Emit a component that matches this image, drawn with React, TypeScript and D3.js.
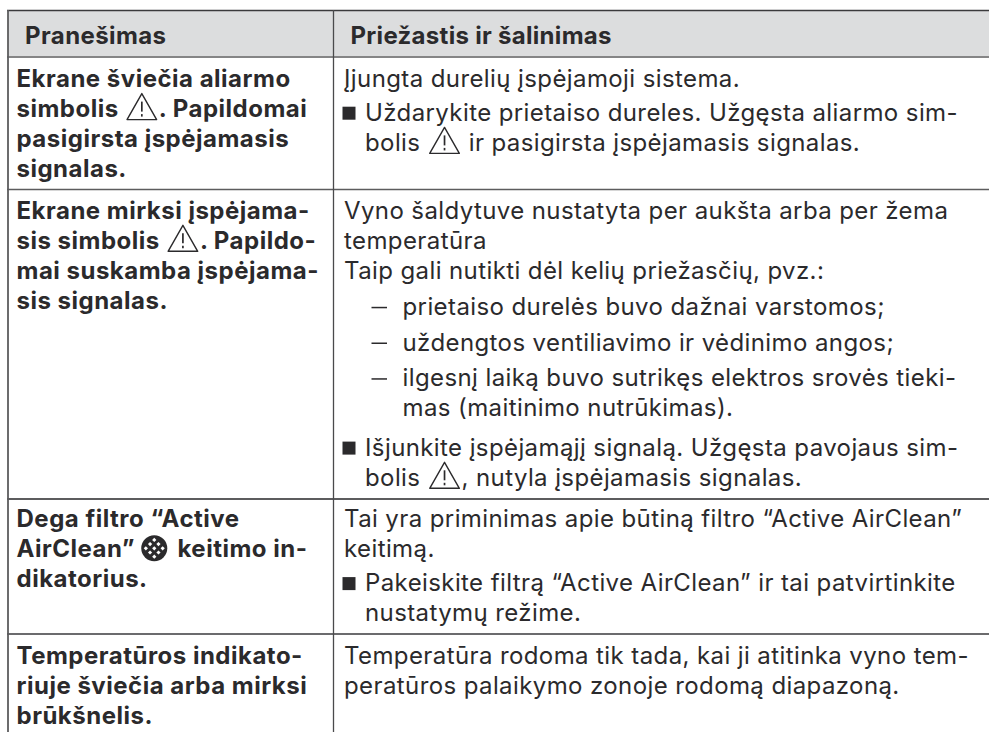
import { useEffect, useRef } from 'react'
import * as d3 from 'd3'

type Kind = 'text' | 'bullet' | 'cont' | 'dash' | 'dashCont'
interface Line { kind: Kind; text: string }

const headers = ['Pranešimas', 'Priežastis ir šalinimas']

const messages = [
  ['Ekrane šviečia aliarmo', 'simbolis {w}. Papildomai', 'pasigirsta įspėjamasis', 'signalas.'],
  ['Ekrane mirksi įspėjama-', 'sis simbolis {w}. Papildo-', 'mai suskamba įspėjama-', 'sis signalas.'],
  ['Dega filtro “Active', 'AirClean” {f} keitimo in-', 'dikatorius.'],
  ['Temperatūros indikato-', 'riuje šviečia arba mirksi', 'brūkšnelis.'],
]

const causes: Line[][] = [
  [
    { kind: 'text', text: 'Įjungta durelių įspėjamoji sistema.' },
    { kind: 'bullet', text: 'Uždarykite prietaiso dureles. Užgęsta aliarmo sim-' },
    { kind: 'cont', text: 'bolis {w} ir pasigirsta įspėjamasis signalas.' },
  ],
  [
    { kind: 'text', text: 'Vyno šaldytuve nustatyta per aukšta arba per žema' },
    { kind: 'text', text: 'temperatūra' },
    { kind: 'text', text: 'Taip gali nutikti dėl kelių priežasčių, pvz.:' },
    { kind: 'dash', text: 'prietaiso durelės buvo dažnai varstomos;' },
    { kind: 'dash', text: 'uždengtos ventiliavimo ir vėdinimo angos;' },
    { kind: 'dash', text: 'ilgesnį laiką buvo sutrikęs elektros srovės tieki-' },
    { kind: 'dashCont', text: 'mas (maitinimo nutrūkimas).' },
    { kind: 'bullet', text: 'Išjunkite įspėjamąjį signalą. Užgęsta pavojaus sim-' },
    { kind: 'cont', text: 'bolis {w}, nutyla įspėjamasis signalas.' },
  ],
  [
    { kind: 'text', text: 'Tai yra priminimas apie būtiną filtro “Active AirClean”' },
    { kind: 'text', text: 'keitimą.' },
    { kind: 'bullet', text: 'Pakeiskite filtrą “Active AirClean” ir tai patvirtinkite' },
    { kind: 'cont', text: 'nustatymų režime.' },
  ],
  [
    { kind: 'text', text: 'Temperatūra rodoma tik tada, kai ji atitinka vyno tem-' },
    { kind: 'text', text: 'peratūros palaikymo zonoje rodomą diapazoną.' },
  ],
]

const WIDTH = 989
const HEIGHT = 732
const INK = '#2b2a2c'
const FONT = 'Inter, sans-serif'
const BODY_SIZE = 24
const TRACKING = 0.4

const rowIndex = d3.range(messages.length)
const rowLine = d3.scaleOrdinal<number, number>().domain(rowIndex).range([57, 189.5, 499, 634])
const firstBaseline = d3.scaleOrdinal<number, number>().domain(rowIndex).range([87, 218.7, 527.2, 663.7])
const kindX: Record<Kind, number> = { text: 344, bullet: 365, cont: 365, dash: 402.5, dashCont: 402.5 }

function drawWarn(g: d3.Selection<SVGGElement, unknown, null, undefined>, x0: number, baseline: number) {
  const w = 31
  const x = x0 + 1.5
  const top = baseline - 23.5
  const bottom = baseline + 2.5
  const icon = g.append('g').attr('fill', 'none').attr('stroke', INK).attr('stroke-width', 1.4)
  icon.append('path')
    .attr('stroke-linejoin', 'round')
    .attr('d', `M${x + w / 2} ${top}L${x + w - 0.7} ${bottom}L${x + 0.7} ${bottom}Z`)
  icon.append('path').attr('d', `M${x + w / 2} ${top + 8}V${bottom - 8}`).attr('stroke-width', 1.7)
  icon.append('path').attr('d', `M${x + w / 2} ${bottom - 5.5}V${bottom - 3}`).attr('stroke-width', 1.7)
  return w + 3
}

function drawFilter(g: d3.Selection<SVGGElement, unknown, null, undefined>, x0: number, baseline: number) {
  const r = 13
  const cx = x0 + r
  const cy = baseline - 9
  g.append('circle').attr('cx', cx).attr('cy', cy).attr('r', r).attr('fill', INK)
  const offsets = d3.range(-2, 3)
  offsets.forEach(i => offsets.forEach(j => {
    const dx = (i - j) * 4.2
    const dy = (i + j) * 4.2
    if (Math.hypot(dx, dy) > r - 2) return
    g.append('rect')
      .attr('x', cx + dx - 1.5).attr('y', cy + dy - 1.5)
      .attr('width', 3).attr('height', 3)
      .attr('transform', `rotate(45 ${cx + dx} ${cy + dy})`)
      .attr('fill', '#fff')
  }))
  return r * 2 + 4
}

// text with inline icons: {w} warning triangle, {f} filter symbol
function drawRun(
  g: d3.Selection<SVGGElement, unknown, null, undefined>,
  line: string, x0: number, y: number, weight: number, tracking = TRACKING,
) {
  let x = x0
  line.split(/(\{[wf]\})/).filter(Boolean).forEach(part => {
    if (part === '{w}') { x += drawWarn(g, x, y); return }
    if (part === '{f}') { x += drawFilter(g, x, y); return }
    const t = g.append('text')
      .attr('x', x).attr('y', y)
      .attr('font-family', FONT).attr('font-size', BODY_SIZE).attr('font-weight', weight)
      .attr('letter-spacing', tracking)
      .attr('fill', INK)
      .attr('xml:space', 'preserve')
      .style('white-space', 'pre')
      .text(part)
    x += (t.node() as SVGTextElement).getComputedTextLength()
  })
}

export default function App() {
  const svgRef = useRef<SVGSVGElement>(null)

  useEffect(() => {
    if (!svgRef.current) return
    const svg = d3.select(svgRef.current)
    svg.selectAll('*').remove()
    const g = svg.append('g') as d3.Selection<SVGGElement, unknown, null, undefined>

    // header band
    g.append('rect').attr('x', 8).attr('y', 11).attr('width', WIDTH - 8).attr('height', 45).attr('fill', '#dcddde')

    drawRun(g, headers[0], 25, 44, 700, 0.4)
    drawRun(g, headers[1], 350.5, 44, 700, 0.3)

    rowIndex.forEach(r => {
      messages[r].forEach((line, i) => {
        drawRun(g, line, 16.5, firstBaseline(r) + i * 30.1, 700, 0.5)
      })

      let y = firstBaseline(r)
      causes[r].forEach((line, i) => {
        const prev = i > 0 ? causes[r][i - 1].kind : null
        if (prev) {
          y += 30.2
          if (line.kind === 'bullet') y += prev === 'dashCont' ? 9 : 3.5
          if (line.kind === 'dash') y += 5.5
        }
        if (line.kind === 'bullet') {
          g.append('rect').attr('x', 342.5).attr('y', y - 14).attr('width', 13).attr('height', 13).attr('fill', INK)
        }
        if (line.kind === 'dash') {
          g.append('rect').attr('x', 371.5).attr('y', y - 8).attr('width', 15.5).attr('height', 1.5).attr('fill', INK)
        }
        drawRun(g, line.text, kindX[line.kind], y, 400)
      })
    })

    // rules
    const hLine = (y: number, color: string, sw: number) =>
      g.append('line').attr('x1', 7).attr('x2', WIDTH).attr('y1', y).attr('y2', y).attr('stroke', color).attr('stroke-width', sw)
    hLine(10.5, '#3a3a3c', 1.5)
    rowIndex.forEach(r => hLine(rowLine(r), r === 3 ? '#3a3a3c' : '#5c5c5e', r === 2 ? 1.8 : 1.5))
    g.append('line').attr('x1', 8).attr('x2', 8).attr('y1', 10).attr('y2', HEIGHT).attr('stroke', '#5c5c5e').attr('stroke-width', 1.8)
    g.append('line').attr('x1', 333.5).attr('x2', 333.5).attr('y1', 10).attr('y2', HEIGHT).attr('stroke', '#4a4a4c').attr('stroke-width', 1.3)
  }, [])

  return (
    <svg
      ref={svgRef}
      width={WIDTH}
      height={HEIGHT}
      style={{ position: 'absolute', left: 0, top: 0, display: 'block', background: '#fff' }}
    />
  )
}
